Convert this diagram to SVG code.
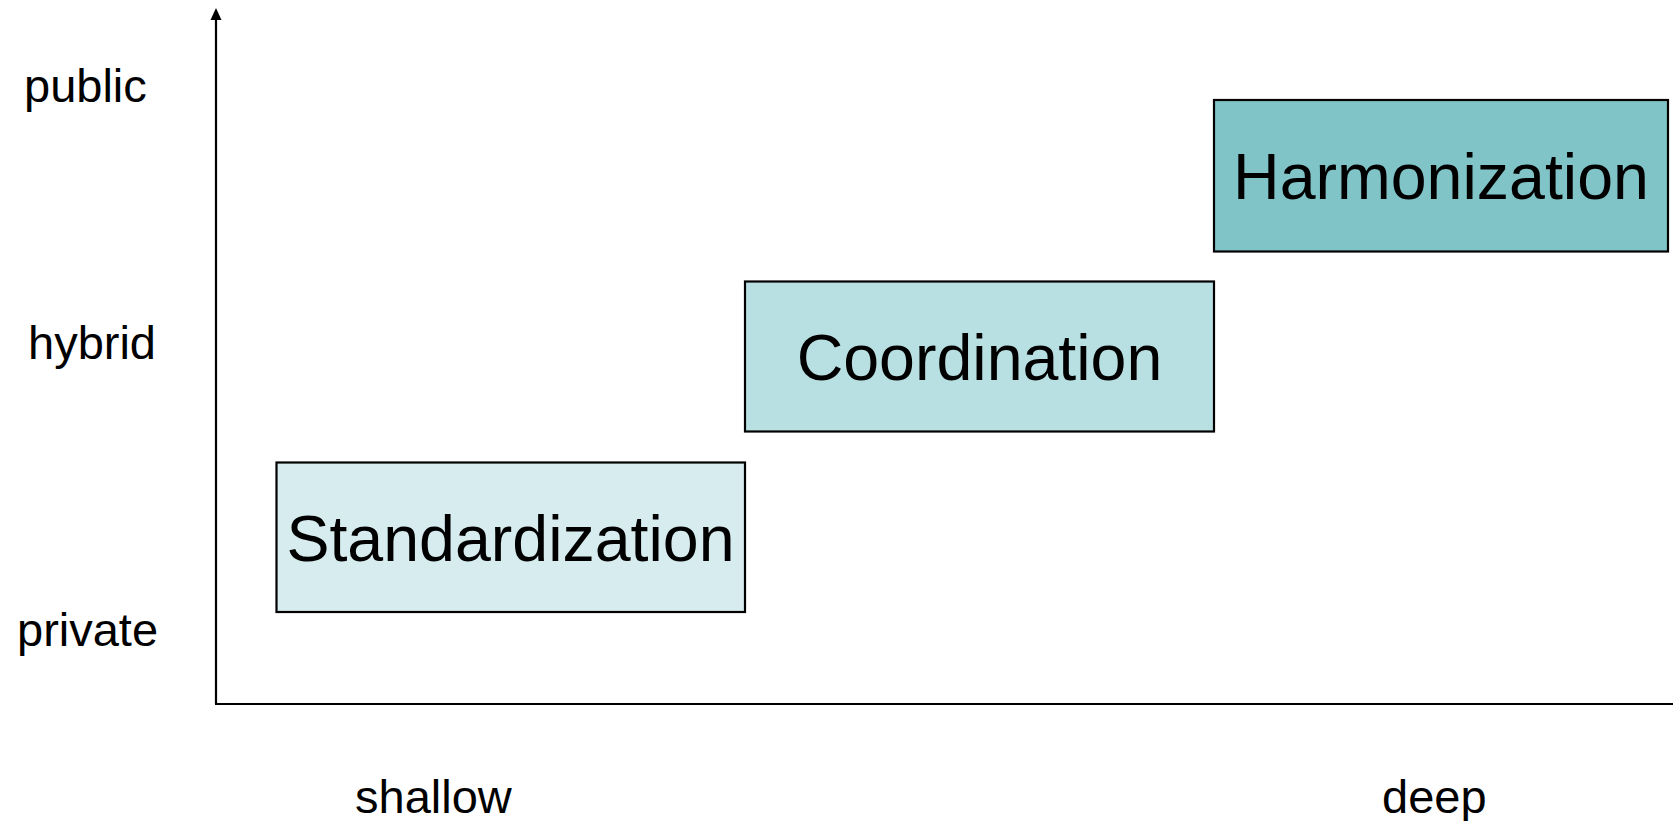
<svg xmlns="http://www.w3.org/2000/svg" width="1673" height="821" viewBox="0 0 1673 821">
<style>
.box{stroke:#000;stroke-width:2.2}
.bt{font-family:"Liberation Sans",Arial,sans-serif;font-size:64.5px;fill:#000;text-anchor:middle}
.lbl{font-family:"Liberation Sans",Arial,sans-serif;font-size:47px;fill:#000}
.axis{stroke:#000;stroke-width:2.2;fill:none}
</style>
<rect width="1673" height="821" fill="#fff"/>
<g id="connectors">
<path class="axis" d="M216,704 L216,20"/>
<path d="M216,8 L221.5,20 L210.5,20 Z" fill="#000"/>
<path class="axis" d="M215,704 L1673,704"/>
</g>
<g id="standardization">
<rect class="box" x="276.5" y="462.5" width="468.5" height="149.5" fill="#d7ecef"/>
<text class="bt" x="510.5" y="561">Standardization</text>
</g>
<g id="coordination">
<rect class="box" x="745" y="281.5" width="469" height="150" fill="#b8e0e2"/>
<text class="bt" x="979.5" y="380">Coordination</text>
</g>
<g id="harmonization">
<rect class="box" x="1214" y="100" width="454" height="151.5" fill="#80c4c8"/>
<text class="bt" x="1441" y="199">Harmonization</text>
</g>
<g id="labels">
<text class="lbl" x="24" y="102">public</text>
<text class="lbl" x="28" y="359">hybrid</text>
<text class="lbl" x="17" y="646">private</text>
<text class="lbl" x="355" y="813">shallow</text>
<text class="lbl" x="1382" y="813">deep</text>
</g>
</svg>
